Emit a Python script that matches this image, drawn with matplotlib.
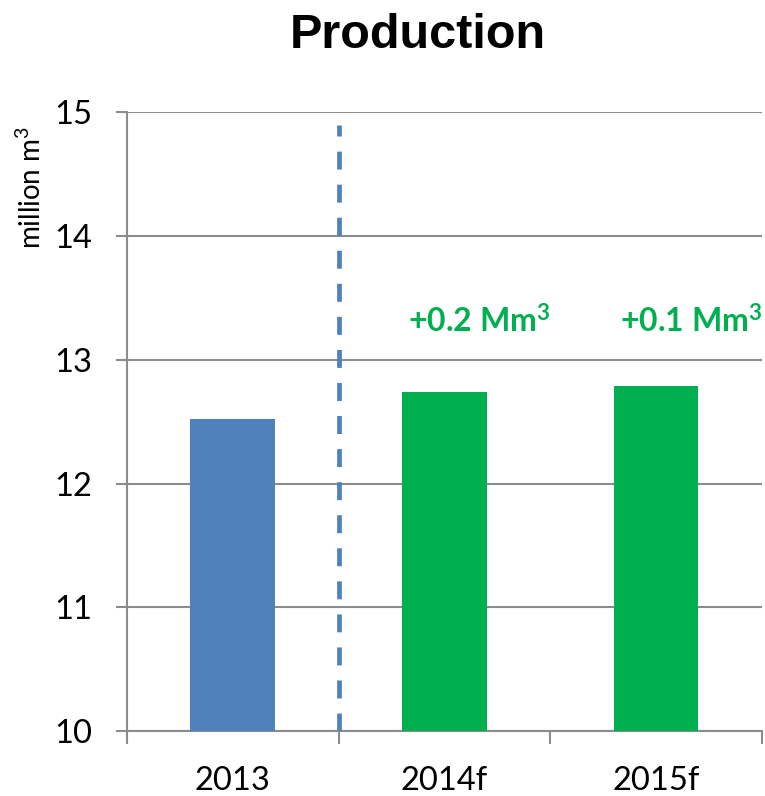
import numpy as np
import matplotlib.pyplot as plt
import matplotlib as mpl

# data
years = ["2013", "2014f", "2015f"]
production = [12.52, 12.74, 12.79]
bar_colors = ["#4F81BD", "#00B050", "#00B050"]
changes = ["", "+0.2 Mm$^3$", "+0.1 Mm$^3$"]
yticks = [10, 11, 12, 13, 14, 15]

plt.rcParams['font.family'] = ['Lato', 'DejaVu Sans']
plt.rcParams['mathtext.default'] = 'regular'

fig = plt.figure(figsize=(7.65, 7.96), dpi=100)
ax = fig.add_axes([0.166, 0.0817, 0.83, 0.777])

x = np.arange(len(years))
ax.bar(x, production, width=0.4, color=bar_colors, zorder=3)

# forecast annotations
for xi, val, txt in zip(x, production, changes):
    if txt:
        ax.text(xi + 0.165, 13.22, txt, color="#00B050", fontsize=23,
                fontweight="bold", ha="center", va="baseline", zorder=4)

# split between actual and forecast
ax.plot([0.5, 0.5], [10, 14.9], color="#4F81BD", lw=3.4,
        dashes=(3.8, 3.2), zorder=4)

ax.set_ylim(10, 15)
ax.set_xlim(-0.5, 2.5)
ax.set_yticks(yticks)
ax.set_xticks(x)
ax.set_xticklabels(years)
ax.set_xticks([-0.5, 0.5, 1.5, 2.5], minor=True)

grey = "#8C8C8C"
ax.yaxis.grid(True, color=grey, lw=1.5, zorder=0)
ax.tick_params(axis='y', which='major', length=8, width=1.5, color=grey,
               labelsize=23.5, pad=17)
ax.tick_params(axis='x', which='major', length=0, labelsize=23.5, pad=25)
ax.tick_params(axis='x', which='minor', length=9, width=1.5, color=grey,
               direction='out')
for s in ['top', 'right']:
    ax.spines[s].set_visible(False)
for s in ['left', 'bottom']:
    ax.spines[s].set_color(grey)
    ax.spines[s].set_linewidth(1.5)

fig.text(31 / 765, 0.764, "million m$^3$", rotation=90, fontsize=20,
         ha="center", va="center")
fig.text(0.546, 0.94, "Production", fontsize=35, fontweight="bold",
         family="Liberation Sans", ha="center", va="baseline")

plt.savefig("out.png", dpi=100)
